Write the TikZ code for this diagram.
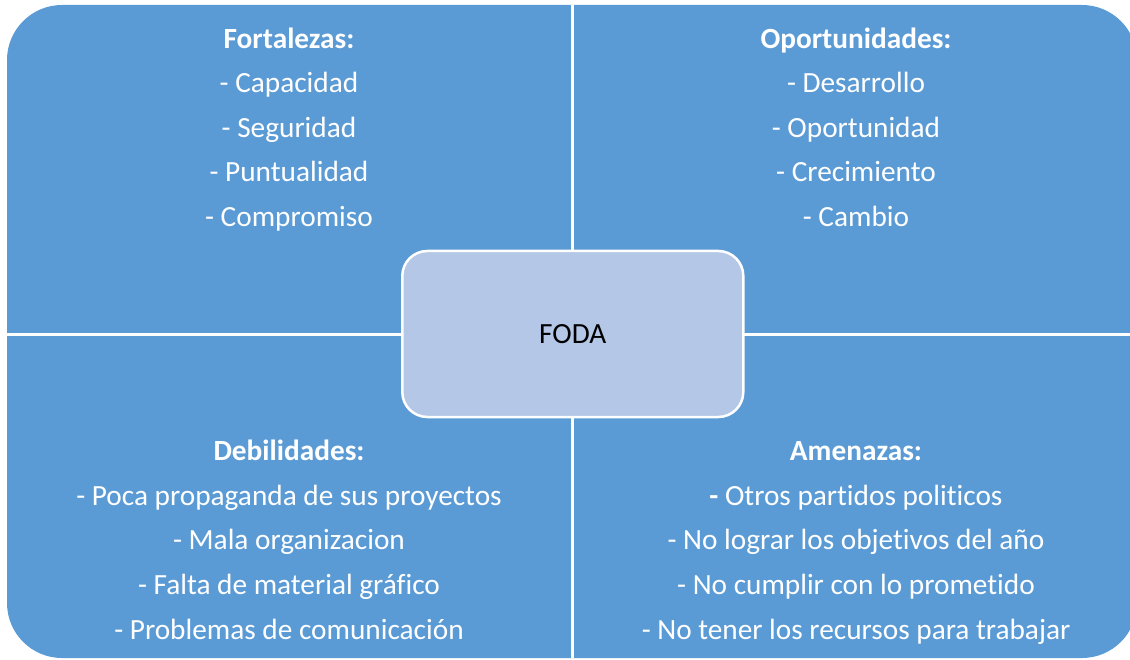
\documentclass[tikz,border=0pt]{standalone}
\usepackage{fontspec}
\setmainfont[Ligatures={NoCommon}]{Carlito}
\definecolor{fodablue}{RGB}{91,155,213}
\definecolor{fodalight}{RGB}{180,199,231}
\tikzset{
  itemtext/.style={text=white, inner sep=0pt, anchor=base, font=\fontsize{29.3}{35}\selectfont},
  titletext/.style={itemtext, font=\fontsize{29.3}{35}\selectfont\bfseries},
  fodabox/.style={draw=white, line width=2.5pt, fill=fodalight, rounded corners=25pt,
    minimum width=341pt, minimum height=166pt, inner sep=0pt, text=black,
    font=\fontsize{29.3}{35}\selectfont},
  divider/.style={draw=white, line width=3pt}
}
\begin{document}
\begin{tikzpicture}[x=1pt,y=-1pt]
\useasboundingbox (0,0) rectangle (1130,660);
\begin{scope}
  \clip (0,0) rectangle (1130,660);
  \fill[fodablue, rounded corners=55pt] (7,5) rectangle (1137,658);
  \coordinate (vt) at (572.8,5);
  \coordinate (vb) at (572.8,658);
  \coordinate (hl) at (7,334.5);
  \coordinate (hr) at (1137,334.5);
  \draw[divider] (vt) -- (vb);
  \draw[divider] (hl) -- (hr);
\end{scope}
\node[fodabox] (foda) at (572.8,334) {FODA};
% Fortalezas
\node[titletext] (f0) at (289,48.5) {Fortalezas:};
\node[itemtext] (f1) at (289,93) {- Capacidad};
\node[itemtext] (f2) at (289,137.5) {- Seguridad};
\node[itemtext] (f3) at (289,182) {- Puntualidad};
\node[itemtext] (f4) at (289,226.5) {- Compromiso};
% Oportunidades
\node[titletext] (o0) at (856,48.5) {Oportunidades:};
\node[itemtext] (o1) at (856,93) {- Desarrollo};
\node[itemtext] (o2) at (856,137.5) {- Oportunidad};
\node[itemtext] (o3) at (856,182) {- Crecimiento};
\node[itemtext] (o4) at (856,226.5) {- Cambio};
% Debilidades
\node[titletext] (d0) at (289,460.5) {Debilidades:};
\node[itemtext] (d1) at (289,505.2) {- Poca propaganda de sus proyectos};
\node[itemtext] (d2) at (289,549.9) {- Mala organizacion};
\node[itemtext] (d3) at (289,594.6) {- Falta de material gráfico};
\node[itemtext] (d4) at (289,639.3) {- Problemas de comunicación};
% Amenazas
\node[titletext] (a0) at (856,460.5) {Amenazas:};
\node[itemtext] (a1) at (856,505.2) {\textbf{-} Otros partidos politicos};
\node[itemtext] (a2) at (856,549.9) {- No lograr los objetivos del año};
\node[itemtext] (a3) at (856,594.6) {- No cumplir con lo prometido};
\node[itemtext] (a4) at (856,639.3) {- No tener los recursos para trabajar};
\end{tikzpicture}
\end{document}
